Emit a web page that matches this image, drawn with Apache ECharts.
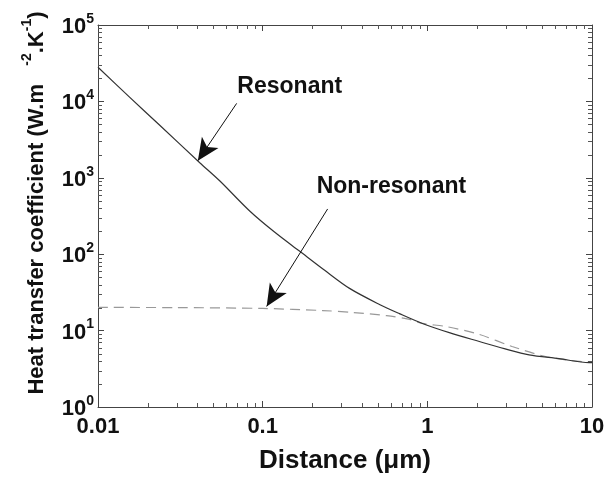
<!DOCTYPE html>
<html>
<head>
<meta charset="utf-8">
<script src="https://cdn.jsdelivr.net/npm/echarts@6/dist/echarts.min.js"></script>
<style>
html,body{margin:0;padding:0;background:#fff;}
#chart{width:608px;height:480px;}
</style>
</head>
<body>
<div id="chart"></div>
<script>
// Distance (µm) and heat transfer coefficient (W.m-2.K-1)
const resonantDistance = [0.01, 0.0156, 0.0238, 0.0415, 0.0548, 0.0834, 0.118, 0.168, 0.238, 0.337, 0.512, 0.676, 0.933, 1.36, 2.07, 2.93, 4.15, 6.3, 9.6, 10];
const resonantH        = [28000, 11300, 4830, 1575, 914, 368, 195, 109, 61.5, 35.7, 22.0, 16.7, 12.4, 9.4, 7.2, 5.8, 4.8, 4.3, 3.8, 3.8];

const nonResDistance = [0.01, 0.03, 0.1, 0.231, 0.35, 0.565, 0.78, 0.933, 1.30, 2.07, 3.27, 5.3, 9.6, 10];
const nonResH        = [20.1, 20.0, 19.5, 18.3, 17.3, 15.7, 14.0, 12.4, 11.3, 8.9, 6.2, 4.55, 3.9, 3.9];

const xTickLabels = ['0.01', '0.1', '1', '10'];
const yExponents = [0, 1, 2, 3, 4, 5];

// annotation anchors (data space)
const resLabelAt = [0.146, 15700];
const resArrow = [[0.0695, 9420], [0.0404, 1675]];
const nonResLabelAt = [0.605, 762];
const nonResArrow = [[0.248, 391], [0.1057, 20.7]];

// minor tick values for log axes
const xMinor = [];
[-2, -1, 0].forEach(k => { for (let m = 2; m <= 9; m++) xMinor.push(+(m * Math.pow(10, k)).toPrecision(3)); });
const yMinor = [];
[0, 1, 2, 3, 4].forEach(k => { for (let m = 2; m <= 9; m++) yMinor.push(m * Math.pow(10, k)); });

const FONT = "'Liberation Sans', Arial, sans-serif";
const AX = '#444';
const MINOR = '#555';

const chart = echarts.init(document.getElementById('chart'), null, {renderer: 'canvas'});

const xBase = {
  type: 'log', logBase: 10, min: 0.01, max: 10,
  axisLine: {show: true, lineStyle: {color: AX, width: 1}},
  axisTick: {show: true, inside: true, length: 6, lineStyle: {color: AX}},
  splitLine: {show: false}
};
const yBase = {
  type: 'log', logBase: 10, min: 1, max: 100000,
  axisLine: {show: true, lineStyle: {color: AX, width: 1}},
  axisTick: {show: true, inside: true, length: 6, lineStyle: {color: AX}},
  splitLine: {show: false}
};

function tickLine(x1, y1, x2, y2) {
  return {type: 'line', shape: {x1: x1, y1: y1, x2: x2, y2: y2}, style: {stroke: MINOR, lineWidth: 1}};
}

chart.setOption({
  animation: false,
  backgroundColor: '#fff',
  grid: {left: 98, right: 16, top: 25, bottom: 73},
  xAxis: [
    Object.assign({}, xBase, {
      position: 'bottom',
      name: 'Distance (μm)', nameLocation: 'middle', nameGap: 41,
      nameTextStyle: {fontFamily: FONT, fontWeight: 'bold', fontSize: 26, color: '#111'},
      axisLabel: {
        margin: 9, fontFamily: FONT, fontWeight: 'bold', fontSize: 22, color: '#111',
        formatter: v => {
          const i = Math.round(Math.log10(v)) + 2;
          return xTickLabels[i] !== undefined ? xTickLabels[i] : '';
        }
      }
    }),
    Object.assign({}, xBase, {position: 'top', axisLabel: {show: false}})
  ],
  yAxis: [
    Object.assign({}, yBase, {
      position: 'left',
      name: '{t|Heat transfer coefficient (W.m   }{s|-2}{t|.K}{s|-1}{t|)}',
      nameLocation: 'middle', nameGap: 50,
      nameTextStyle: {
        fontFamily: FONT, fontWeight: 'bold', fontSize: 22, color: '#111',
        padding: [0, 0, 0, 26],
        rich: {
          t: {fontFamily: FONT, fontWeight: 'bold', fontSize: 22, color: '#111', lineHeight: 28, verticalAlign: 'bottom'},
          s: {fontFamily: FONT, fontWeight: 'bold', fontSize: 14, color: '#111', lineHeight: 28, verticalAlign: 'top'}
        }
      },
      axisLabel: {
        margin: 4,
        formatter: v => {
          const e = Math.round(Math.log10(v));
          return yExponents.indexOf(e) >= 0 ? '{b|10}{s|' + e + '}' : '';
        },
        rich: {
          b: {fontFamily: FONT, fontWeight: 'bold', fontSize: 22, color: '#111', lineHeight: 26, verticalAlign: 'bottom'},
          s: {fontFamily: FONT, fontWeight: 'bold', fontSize: 14, color: '#111', lineHeight: 26, verticalAlign: 'top'}
        }
      }
    }),
    Object.assign({}, yBase, {position: 'right', axisLabel: {show: false}})
  ],
  series: [
    {
      name: 'Resonant', type: 'line', xAxisIndex: 0, yAxisIndex: 0,
      data: resonantDistance.map((d, i) => [d, resonantH[i]]),
      showSymbol: false, symbol: 'none', smooth: 0.3,
      lineStyle: {color: '#333', width: 1.2},
      z: 3,
      markLine: {
        silent: true, symbol: ['none', 'arrow'], symbolSize: [15, 22],
        lineStyle: {color: '#111', width: 1, type: 'solid'},
        label: {show: false},
        data: [[{coord: resArrow[0]}, {coord: resArrow[1]}]]
      },
      markPoint: {
        silent: true, symbol: 'circle', symbolSize: 0,
        label: {show: true, position: 'inside', fontFamily: FONT, fontWeight: 'bold', fontSize: 23, color: '#111',
          formatter: 'Resonant'},
        data: [{coord: resLabelAt}]
      }
    },
    {
      name: 'Non-resonant', type: 'line', xAxisIndex: 0, yAxisIndex: 0,
      data: nonResDistance.map((d, i) => [d, nonResH[i]]),
      showSymbol: false, symbol: 'none', smooth: 0.3,
      lineStyle: {color: '#999', width: 1.2, type: [10, 6]},
      z: 2,
      markLine: {
        silent: true, symbol: ['none', 'arrow'], symbolSize: [15, 22],
        lineStyle: {color: '#111', width: 1, type: 'solid'},
        label: {show: false},
        data: [[{coord: nonResArrow[0]}, {coord: nonResArrow[1]}]]
      },
      markPoint: {
        silent: true, symbol: 'circle', symbolSize: 0,
        label: {show: true, position: 'inside', fontFamily: FONT, fontWeight: 'bold', fontSize: 23, color: '#111',
          formatter: 'Non-resonant'},
        data: [{coord: nonResLabelAt}]
      }
    },
    {
      name: 'xMinorTicks', type: 'custom', silent: true, xAxisIndex: 0, yAxisIndex: 0,
      clip: false, z: 10,
      data: xMinor.map(v => [v, 1]),
      renderItem: function (params, api) {
        const v = api.value(0);
        const b = api.coord([v, 1]);
        const t = api.coord([v, 100000]);
        const x = Math.round(b[0]) + 0.5;
        return {type: 'group', children: [
          tickLine(x, b[1], x, b[1] - 4),
          tickLine(x, t[1], x, t[1] + 4)
        ]};
      }
    },
    {
      name: 'yMinorTicks', type: 'custom', silent: true, xAxisIndex: 0, yAxisIndex: 0,
      clip: false, z: 10,
      data: yMinor.map(v => [0.01, v]),
      renderItem: function (params, api) {
        const v = api.value(1);
        const l = api.coord([0.01, v]);
        const r = api.coord([10, v]);
        const y = Math.round(l[1]) + 0.5;
        return {type: 'group', children: [
          tickLine(l[0], y, l[0] + 4, y),
          tickLine(r[0], y, r[0] - 4, y)
        ]};
      }
    }
  ]
});
</script>
</body>
</html>
